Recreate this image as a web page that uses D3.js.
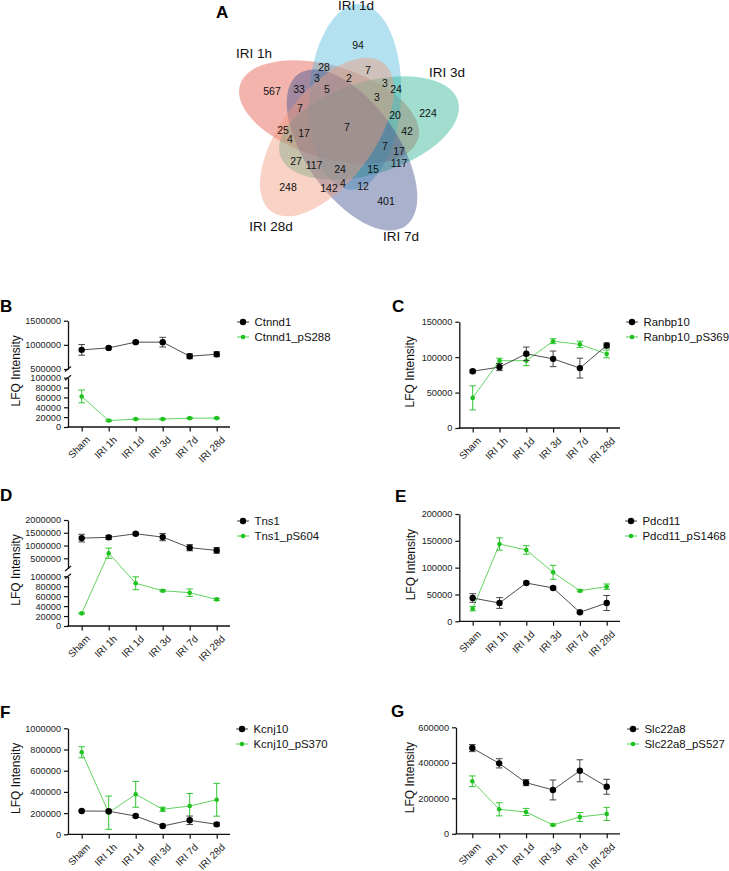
<!DOCTYPE html>
<html>
<head>
<meta charset="utf-8">
<script src="https://cdn.jsdelivr.net/npm/d3@7"></script>
<style>
  body { margin: 0; background: #fff; }
  svg { display: block; font-family: Arial, "Liberation Sans", sans-serif; }
</style>
</head>
<body>
<svg id="fig" width="729" height="871"></svg>
<script>
// ---- data ----
const categories = ["Sham", "IRI 1h", "IRI 1d", "IRI 3d", "IRI 7d", "IRI 28d"];

const ctnnd1 = [896000, 937000, 1056000, 1056000, 764000, 806000];
const ctnnd1Err = [110000, 25000, 20000, 100000, 50000, 50000];
const ctnnd1P = [62000, 13000, 16000, 16000, 18000, 18000];
const ctnnd1PErr = [13000, 1500, 1500, 1500, 1500, 1500];

const ranbp10 = [80000, 86000, 104700, 97600, 84500, 116500];
const ranbp10Err = [2000, 5000, 9500, 11000, 14000, 3500];
const ranbp10P = [42500, 95000, 95000, 122500, 118000, 104500];
const ranbp10PErr = [17000, 3500, 7000, 3500, 4500, 5500];

const tns1 = [1290000, 1320000, 1460000, 1330000, 915000, 810000];
const tns1Err = [150000, 80000, 50000, 140000, 120000, 110000];
const tns1P = [25500, 700000, 86000, 71000, 67000, 53500];
const tns1PErr = [1500, 200000, 13000, 2000, 7500, 2000];

const pdcd11 = [43400, 34100, 71400, 62100, 16800, 34100];
const pdcd11Err = [8000, 10000, 2000, 2000, 2000, 14000];
const pdcd11P = [23500, 144000, 133000, 91300, 57000, 64500];
const pdcd11PErr = [4000, 11500, 8000, 13000, 2000, 5000];

const kcnj10 = [220000, 218000, 172000, 78000, 132000, 94000];
const kcnj10Err = [8000, 15000, 12000, 8000, 40000, 16000];
const kcnj10P = [774000, 204000, 377000, 236000, 267000, 326000];
const kcnj10PErr = [52000, 157000, 122000, 20000, 118000, 155000];

const slc22a8 = [483000, 397000, 288000, 247000, 355000, 265000];
const slc22a8Err = [20000, 26000, 17000, 56000, 62000, 42000];
const slc22a8P = [296000, 138000, 123000, 50000, 95000, 112000];
const slc22a8PErr = [30000, 37000, 20000, 5000, 25000, 37000];

// venn
const vennSets = ["IRI 1h", "IRI 1d", "IRI 3d", "IRI 7d", "IRI 28d"];
const vennCounts = [94, 567, 28, 7, 3, 2, 3, 24, 33, 5, 3, 224, 20, 7, 7, 42,
  25, 17, 4, 7, 17, 27, 117, 117, 24, 15, 248, 142, 4, 12, 401];

// ---- layout ----
const vennColors = ["#E4584C", "#56BCDC", "#2EB596", "#415191", "#EF9B7D"];
const vennShapes = [
  { cx: 329, cy: 112, rot: 17 },
  { cx: 355, cy: 97, rot: -87 },
  { cx: 369, cy: 128, rot: -17 },
  { cx: 352, cy: 150, rot: 55 },
  { cx: 327, cy: 137, rot: -53 },
];
const vennSetLabelXY = [[254, 58], [356, 10], [447, 77], [401, 241], [271, 231]];
const vennLabelXY = [
  [358, 45], [272, 91], [324, 67], [368, 70], [317, 78], [349, 78], [385, 83],
  [396, 89], [299, 89], [327, 89], [377, 97], [428, 113], [395, 115], [300, 108],
  [347, 127], [407, 131], [283, 130], [304, 133], [290, 139], [385, 146], [399, 151],
  [296, 161], [314, 165], [399, 163], [340, 169], [373, 169], [288, 187], [329, 188],
  [343, 183], [363, 186], [386, 201],
];

const svg = d3.select("#fig");
const BLACK = "#000", GREEN = "#1fc11f";

// ---- panel A: venn ----
const venn = svg.append("g");
venn.selectAll("ellipse")
  .data(vennShapes)
  .join("ellipse")
  .attr("cx", 0).attr("cy", 0).attr("rx", 93).attr("ry", 46)
  .attr("transform", (d) => `translate(${d.cx},${d.cy}) rotate(${d.rot})`)
  .attr("fill", (d, i) => vennColors[i])
  .attr("fill-opacity", 0.45);

venn.selectAll("text.count")
  .data(vennCounts)
  .join("text")
  .attr("class", "count")
  .attr("x", (d, i) => vennLabelXY[i][0])
  .attr("y", (d, i) => vennLabelXY[i][1])
  .attr("dy", "0.35em")
  .attr("text-anchor", "middle")
  .attr("font-size", 10.5)
  .attr("fill", "#111")
  .text((d) => d);

venn.selectAll("text.set")
  .data(vennSets)
  .join("text")
  .attr("class", "set")
  .attr("x", (d, i) => vennSetLabelXY[i][0])
  .attr("y", (d, i) => vennSetLabelXY[i][1])
  .attr("text-anchor", "middle")
  .attr("font-size", 13.5)
  .attr("fill", "#111")
  .text((d) => d);

svg.append("text").attr("x", 216).attr("y", 18)
  .attr("font-size", 17).attr("font-weight", "bold").text("A");

// ---- line panels ----
const range = (a, b, s) => d3.range(a, b + s / 2, s);

const panels = [
  { letter: "B", lx: 0, ly: 312, axisX: 68, axisEnd: 230, cx: [81.7, 216.7], yBot: 427, titleX: 20,
    names: ["Ctnnd1", "Ctnnd1_pS288"], vals: [ctnnd1, ctnnd1P], errs: [ctnnd1Err, ctnnd1PErr],
    legX: 243, legY: 322,
    segs: [
      { domain: [0, 100000], range: [427, 377.7], ticks: range(0, 100000, 20000) },
      { domain: [500000, 1500000], range: [369, 320.7], ticks: [500000, 1000000, 1500000] },
    ] },
  { letter: "C", lx: 392, ly: 312, axisX: 459.3, axisEnd: 620, cx: [472.7, 606.7], yBot: 428, titleX: 414,
    names: ["Ranbp10", "Ranbp10_pS369"], vals: [ranbp10, ranbp10P], errs: [ranbp10Err, ranbp10PErr],
    legX: 632, legY: 322,
    segs: [{ domain: [0, 150000], range: [428, 321.7], ticks: range(0, 150000, 50000) }] },
  { letter: "D", lx: 0, ly: 501, axisX: 68, axisEnd: 230, cx: [81.7, 216.7], yBot: 626, titleX: 19.5,
    names: ["Tns1", "Tns1_pS604"], vals: [tns1, tns1P], errs: [tns1Err, tns1PErr],
    legX: 243, legY: 521,
    segs: [
      { domain: [0, 100000], range: [626, 576.3], ticks: range(0, 100000, 20000) },
      { domain: [100000, 2000000], range: [568.5, 520], ticks: [500000, 1000000, 1500000, 2000000] },
    ] },
  { letter: "E", lx: 395, ly: 502, axisX: 459.3, axisEnd: 620, cx: [472.7, 606.7], yBot: 621.3, titleX: 414.5,
    names: ["Pdcd11", "Pdcd11_pS1468"], vals: [pdcd11, pdcd11P], errs: [pdcd11Err, pdcd11PErr],
    legX: 631, legY: 521,
    segs: [{ domain: [0, 200000], range: [621.3, 514], ticks: range(0, 200000, 50000) }] },
  { letter: "F", lx: 0, ly: 718, axisX: 68, axisEnd: 230, cx: [81.7, 216.7], yBot: 834.3, titleX: 20,
    names: ["Kcnj10", "Kcnj10_pS370"], vals: [kcnj10, kcnj10P], errs: [kcnj10Err, kcnj10PErr],
    legX: 242, legY: 729,
    segs: [{ domain: [0, 1000000], range: [834.3, 728.3], ticks: range(0, 1000000, 200000) }] },
  { letter: "G", lx: 391, ly: 717, axisX: 456, axisEnd: 620, cx: [472.3, 606.7], yBot: 833.8, titleX: 414,
    names: ["Slc22a8", "Slc22a8_pS527"], vals: [slc22a8, slc22a8P], errs: [slc22a8Err, slc22a8PErr],
    legX: 633, legY: 729,
    segs: [{ domain: [0, 600000], range: [833.8, 727.3], ticks: range(0, 600000, 200000) }] },
];

const seriesStyle = [
  { mark: BLACK, line: "#3a3a3a", err: "#444", r: 3.2 },
  { mark: GREEN, line: "#4fcf4f", err: "#33c633", r: 2.3 },
];

panels.forEach((p, pi) => {
  const g = svg.append("g");
  const x = d3.scalePoint().domain(categories).range(p.cx);
  const segs = p.segs.map((s) => ({ ...s, scale: d3.scaleLinear().domain(s.domain).range(s.range) }));
  const y = (v) => {
    let s = segs[0];
    segs.forEach((t) => { if (v >= t.domain[0] && t !== segs[0]) s = t; });
    return s.scale(v);
  };

  // clip to the axis segments (hides the break gap)
  const clipId = "clip" + pi;
  const cp = svg.append("clipPath").attr("id", clipId);
  segs.forEach((s) => {
    cp.append("rect").attr("x", p.axisX + 1).attr("y", s.range[1] - 20)
      .attr("width", p.axisEnd - p.axisX + 10).attr("height", s.range[0] - s.range[1] + 20 + (s === segs[0] ? 5 : 0));
  });

  // y axes
  segs.forEach((s) => {
    const ax = g.append("g")
      .attr("transform", `translate(${p.axisX},0)`)
      .call(d3.axisLeft(s.scale).tickValues(s.ticks).tickSize(4).tickSizeOuter(0).tickPadding(3)
        .tickFormat(d3.format("d")));
    ax.select(".domain").attr("stroke", "#111").attr("stroke-width", 1.3);
    ax.selectAll(".tick line").attr("stroke", "#111").attr("stroke-width", 1.2);
    ax.selectAll(".tick text").attr("font-size", 9.2).attr("fill", "#222")
      .attr("font-family", "Arial, 'Liberation Sans', sans-serif");
  });
  if (segs.length > 1) {
    [segs[0].range[1], segs[1].range[0]].forEach((yy) => {
      g.append("line").attr("x1", p.axisX - 3).attr("x2", p.axisX + 3)
        .attr("y1", yy + 2.5).attr("y2", yy - 2.5)
        .attr("stroke", "#111").attr("stroke-width", 1.2);
    });
  }

  // x axis
  const xa = g.append("g")
    .attr("transform", `translate(0,${p.yBot})`)
    .call(d3.axisBottom(x).tickSize(4.5).tickSizeOuter(0));
  xa.select(".domain").remove();
  xa.selectAll(".tick line").attr("stroke", "#111").attr("stroke-width", 1.2);
  xa.selectAll(".tick text")
    .attr("y", 0).attr("dy", "0.35em")
    .attr("text-anchor", "end")
    .attr("transform", "translate(6,11) rotate(-45)")
    .attr("font-size", 10).attr("fill", "#222")
    .attr("font-family", "Arial, 'Liberation Sans', sans-serif");
  g.append("line").attr("x1", p.axisX - 0.6).attr("x2", p.axisEnd)
    .attr("y1", p.yBot).attr("y2", p.yBot)
    .attr("stroke", "#111").attr("stroke-width", 1.3);

  // y title
  const yMid = (segs[0].range[0] + segs[segs.length - 1].range[1]) / 2 - 3;
  g.append("text")
    .attr("transform", `translate(${p.titleX},${yMid}) rotate(-90)`)
    .attr("text-anchor", "middle").attr("font-size", 12).attr("fill", "#111")
    .text("LFQ Intensity");

  // panel letter
  svg.append("text").attr("x", p.lx).attr("y", p.ly)
    .attr("font-size", 17).attr("font-weight", "bold").text(p.letter);

  // series (green drawn first, black on top)
  [1, 0].forEach((si) => {
    const st = seriesStyle[si];
    const vals = p.vals[si], errs = p.errs[si];
    const pts = categories.map((c, i) => ({ c, v: vals[i], e: errs[i] }));
    const clipped = g.append("g").attr("clip-path", `url(#${clipId})`);

    clipped.append("path")
      .datum(pts)
      .attr("fill", "none")
      .attr("stroke", st.line)
      .attr("stroke-width", 0.9)
      .attr("d", d3.line().x((d) => x(d.c)).y((d) => y(d.v)));

    const eb = clipped.selectAll("g.err").data(pts).join("g").attr("class", "err")
      .attr("stroke", st.err).attr("stroke-width", 1);
    eb.append("line")
      .attr("x1", (d) => x(d.c)).attr("x2", (d) => x(d.c))
      .attr("y1", (d) => y(d.v + d.e)).attr("y2", (d) => y(Math.max(0, d.v - d.e)));
    eb.append("line")
      .attr("x1", (d) => x(d.c) - 3.3).attr("x2", (d) => x(d.c) + 3.3)
      .attr("y1", (d) => y(d.v + d.e)).attr("y2", (d) => y(d.v + d.e));
    eb.append("line")
      .attr("x1", (d) => x(d.c) - 3.3).attr("x2", (d) => x(d.c) + 3.3)
      .attr("y1", (d) => y(Math.max(0, d.v - d.e))).attr("y2", (d) => y(Math.max(0, d.v - d.e)));

    g.selectAll(null).data(pts).join("circle")
      .attr("cx", (d) => x(d.c)).attr("cy", (d) => y(d.v))
      .attr("r", st.r).attr("fill", st.mark);
  });

  // legend
  p.names.forEach((name, si) => {
    const st = seriesStyle[si];
    const ly = p.legY + si * 15;
    g.append("line").attr("x1", p.legX - 6).attr("x2", p.legX + 6)
      .attr("y1", ly).attr("y2", ly).attr("stroke", st.line).attr("stroke-width", 1);
    g.append("circle").attr("cx", p.legX).attr("cy", ly).attr("r", st.r).attr("fill", st.mark);
    g.append("text").attr("x", p.legX + 11.5).attr("y", ly).attr("dy", "0.36em")
      .attr("font-size", 11.4).attr("fill", "#111").text(name);
  });
});
</script>
</body>
</html>
